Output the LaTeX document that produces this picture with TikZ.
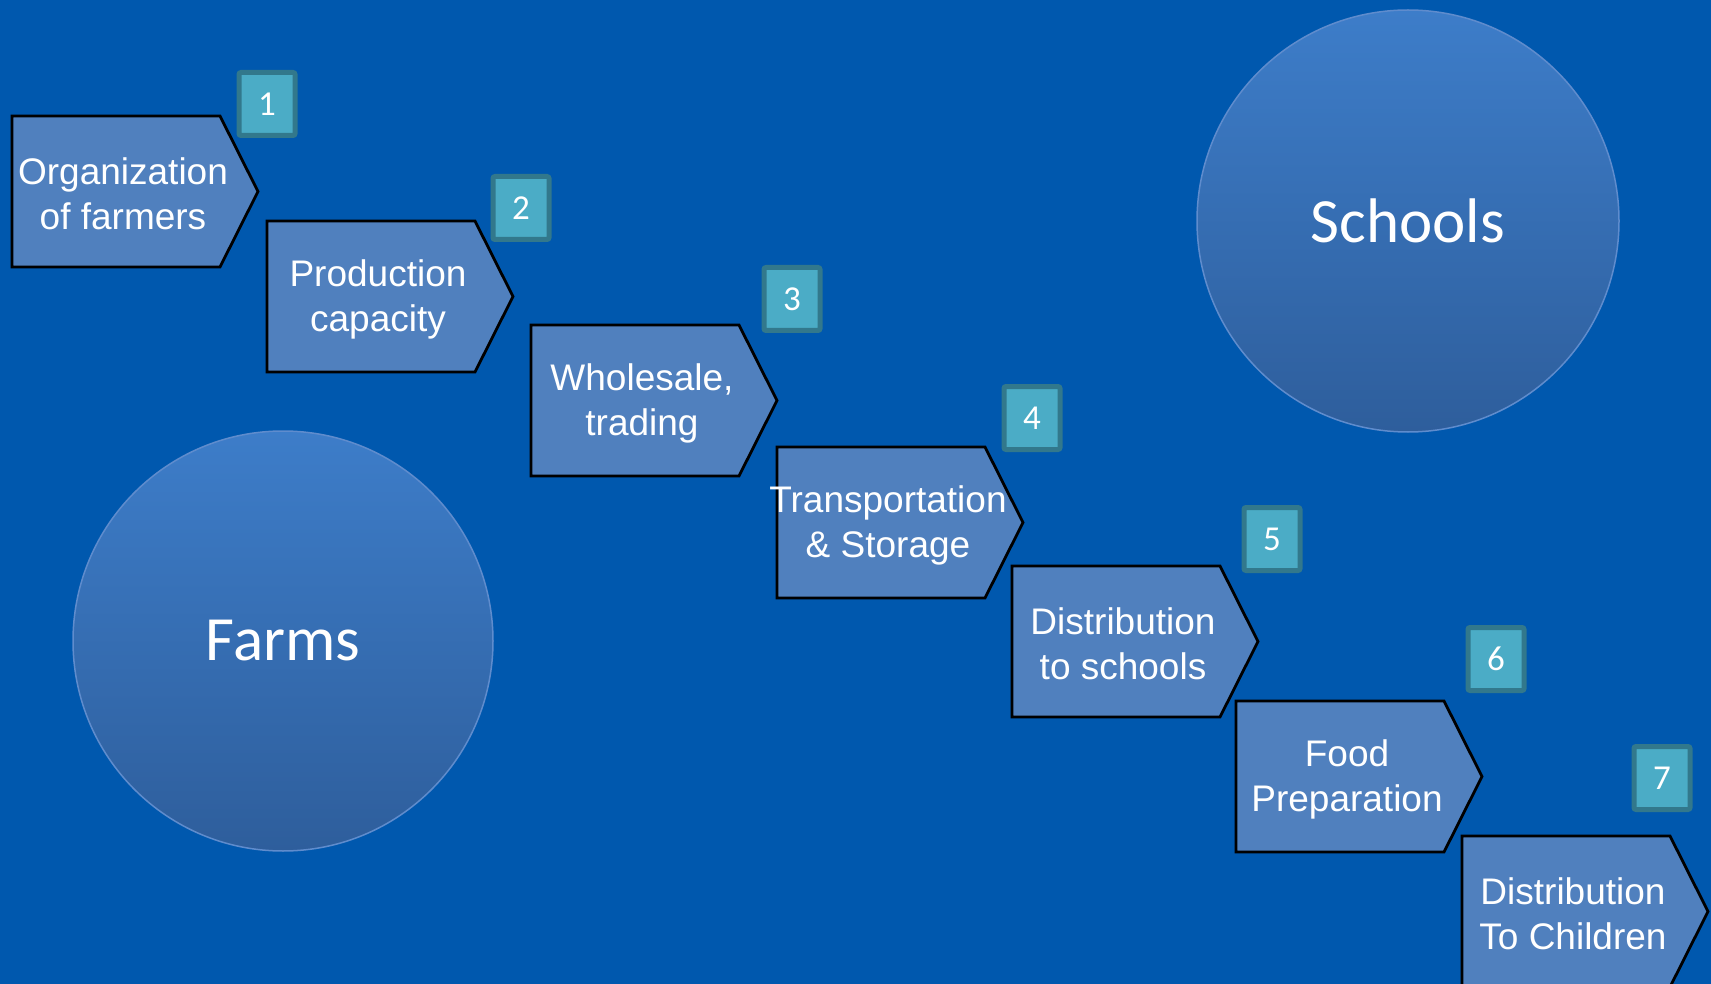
\documentclass[tikz,border=0pt]{standalone}
\usepackage{fontspec}
\setmainfont{Liberation Sans}
\newfontfamily\calib{Carlito}
\definecolor{bgblue}{RGB}{0,88,174}
\definecolor{pentfill}{RGB}{80,128,190}
\definecolor{numfill}{RGB}{75,172,198}
\definecolor{numedge}{RGB}{50,120,140}
\definecolor{circtop}{RGB}{61,125,201}
\definecolor{circbot}{RGB}{46,94,156}
\definecolor{circedge}{RGB}{95,140,205}
\tikzset{
  pentstyle/.style={fill=pentfill, draw=black, line width=2.8pt, line join=miter},
  penttext/.style={text=white, align=center, inner sep=0pt, font=\fontsize{37}{45}\selectfont},
  numbox/.style={fill=numfill, draw=numedge, line width=5pt, rounded corners=2pt,
     minimum width=56pt, minimum height=63pt, inner sep=0pt, text=white,
     font=\calib\fontsize{35}{40}\selectfont},
  bigcirc/.style={circle, top color=circtop, bottom color=circbot, draw=circedge,
     line width=1.5pt, inner sep=0pt, text=white, font=\calib\fontsize{63}{70}\selectfont}
}
\newcommand\pent[4]{%
  \draw[pentstyle] (#2,#3) -- ++(208,0) -- ++(38,75.5) -- ++(-38,75.5) -- ++(-208,0) -- cycle;
  \node[penttext] (#1) at (#2+111,#3+78) {#4};
}
\begin{document}
\begin{tikzpicture}[x=1pt,y=-1pt]
\useasboundingbox (0,0) rectangle (1711,984);
\clip (0,0) rectangle (1711,984);
\fill[bgblue] (0,0) rectangle (1711,984);

\node[bigcirc, minimum size=422pt] (schools) at (1408,221) {Schools};
\node[bigcirc, minimum size=420pt] (farms) at (283,641) {Farms};

\pent{p1}{12}{116}{Organization\\of farmers}
\pent{p2}{267}{221}{Production\\capacity}
\pent{p3}{531}{325}{Wholesale,\\trading}
\pent{p4}{777}{447}{Transportation\\\& Storage}
\pent{p5}{1012}{566}{Distribution\\to schools}
\pent{p6}{1236}{701}{Food\\Preparation}
\pent{p7}{1462}{836}{Distribution\\To Children}

\node[numbox] (n1) at (267,104) {1};
\node[numbox] (n2) at (521,208) {2};
\node[numbox] (n3) at (792,299) {3};
\node[numbox] (n4) at (1032,418) {4};
\node[numbox] (n5) at (1272,539) {5};
\node[numbox] (n6) at (1496,659) {6};
\node[numbox] (n7) at (1662,778) {7};
\end{tikzpicture}
\end{document}
